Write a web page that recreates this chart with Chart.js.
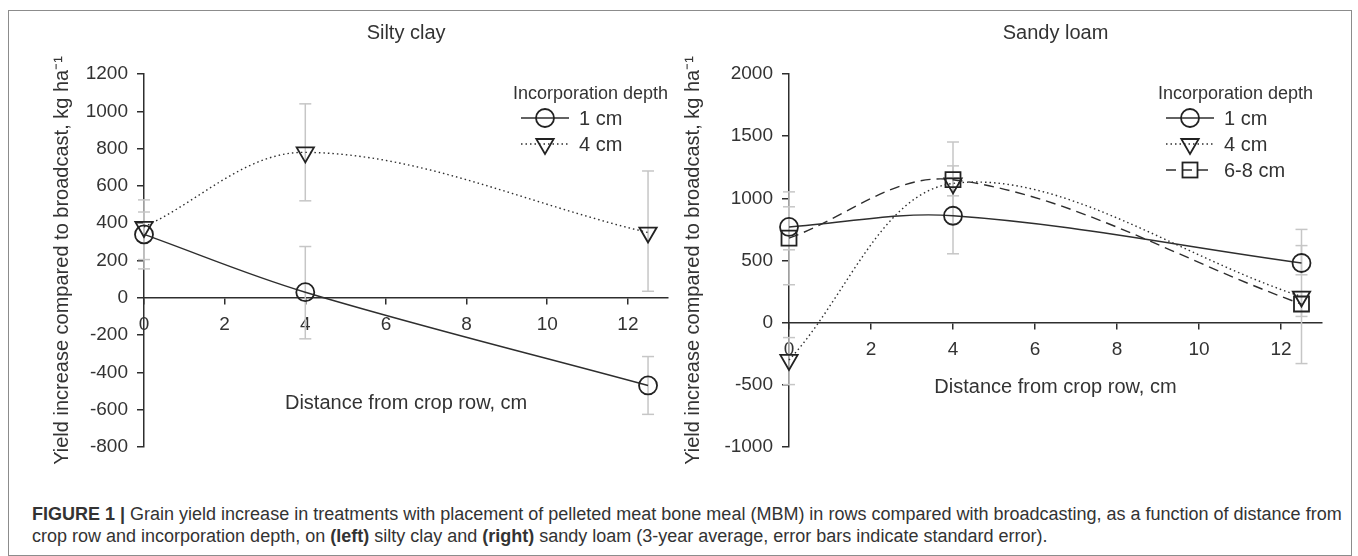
<!DOCTYPE html>
<html>
<head>
<meta charset="utf-8">
<script src="https://cdn.jsdelivr.net/npm/chart.js@4.4.1/dist/chart.umd.min.js"></script>
<style>
  html, body { margin: 0; padding: 0; background: #fff; }
  body {
    width: 1358px; height: 556px; position: relative; overflow: hidden;
    font-family: "Liberation Sans", Arial, sans-serif; color: #333;
  }
  .frame {
    position: absolute; left: 8px; top: 10px; width: 1342px; height: 544px;
    border: 1px solid #8c8c8c;
  }
  canvas { position: absolute; top: 0; }
  #silty { left: 0; }
  #sandy { left: 680px; }
  .legend { position: absolute; top: 81px; }
  .legend__title { font-size: 18px; line-height: 24px; white-space: nowrap; }
  .legend__row { display: flex; align-items: center; height: 26px; font-size: 20px; }
  .legend__row svg { flex: none; display: block; }
  .caption {
    position: absolute; left: 32px; top: 504px;
    font-size: 18px; line-height: 21.5px; white-space: nowrap; color: #333;
  }
</style>
</head>
<body>
<div class="frame"></div>
<canvas id="silty" width="680" height="480"></canvas>
<canvas id="sandy" width="678" height="480"></canvas>
<div class="legend" id="siltyLegend" style="left:513px"></div>
<div class="legend" id="sandyLegend" style="left:1158px"></div>
<div class="caption"><b>FIGURE 1 |</b> Grain yield increase in treatments with placement of pelleted meat bone meal (MBM) in rows compared with broadcasting, as a function of distance from<br>crop row and incorporation depth, on <b>(left)</b> silty clay and <b>(right)</b> sandy loam (3-year average, error bars indicate standard error).</div>

<script>
// distance from crop row, cm
const distance = [0, 4, 12.5];
const xTicks = [0, 2, 4, 6, 8, 10, 12];
const siltyYTicks = [-800, -600, -400, -200, 0, 200, 400, 600, 800, 1000, 1200];
const sandyYTicks = [-1000, -500, 0, 500, 1000, 1500, 2000];

// silty clay, kg/ha
const silty1cm = [340, 30, -470];
const silty1cmLow = [155, -220, -625];
const silty1cmHigh = [525, 275, -315];
const silty4cm = [380, 780, 350];
const silty4cmLow = [205, 520, 35];
const silty4cmHigh = [460, 1040, 680];

// sandy loam, kg/ha
const sandy1cm = [770, 860, 480];
const sandy1cmLow = [586, 554, 385];
const sandy1cmHigh = [932, 1166, 620];
const sandy4cm = [-300, 1120, 210];
const sandy4cmLow = [-498, 795, -329];
const sandy4cmHigh = [-120, 1453, 750];
const sandy68cm = [680, 1150, 150];
const sandy68cmLow = [305, 1020, 50];
const sandy68cmHigh = [1052, 1261, 250];

const INK = '#2e2e2e';
const ERR = '#c6c6c6';
const FONT = '"Liberation Sans", Arial, sans-serif';
Chart.defaults.font.family = FONT;
Chart.defaults.color = '#333';

const depthStyles = {
  '1 cm': { pointStyle: 'circle', radius: 9, rotation: 0, dash: [] },
  '4 cm': { pointStyle: 'triangle', radius: 10, rotation: 180, dash: [1.5, 3] },
  '6-8 cm': { pointStyle: 'rect', radius: 10.6, rotation: 0, dash: [10, 6] },
};

function seriesDataset(label, values) {
  const s = depthStyles[label];
  return {
    label,
    data: distance.map((x, i) => ({ x, y: values[i] })),
    borderColor: INK,
    borderWidth: 1.4,
    borderDash: s.dash,
    tension: 0.35,
    fill: false,
    clip: false,
    pointStyle: s.pointStyle,
    pointRotation: s.rotation,
    pointRadius: s.radius,
    pointBorderColor: '#222',
    pointBorderWidth: 1.8,
    pointBackgroundColor: 'rgba(0,0,0,0)',
  };
}

function errorDataset(low, high) {
  const data = [];
  distance.forEach((x, i) => {
    data.push({ x, y: low[i] }, { x, y: high[i] }, { x, y: null });
  });
  return {
    label: 'se',
    data,
    borderColor: ERR,
    borderWidth: 1.5,
    tension: 0,
    clip: false,
    pointStyle: 'line',
    pointRadius: 6,
    pointBorderColor: ERR,
    pointBorderWidth: 1.5,
  };
}

function createPanel($canvas, { title, series, errors, yTicks, yWidth, yTitlePadTop, xTitlePadTop, padding }) {
  const datasets = [
    ...series.map(([label, values]) => seriesDataset(label, values)),
    ...errors.map(([low, high]) => errorDataset(low, high)),
  ];
  return new Chart($canvas, {
    type: 'line',
    data: { datasets },
    options: {
      responsive: false,
      animation: false,
      events: [],
      layout: { padding },
      plugins: {
        legend: { display: false },
        tooltip: { enabled: false },
        title: {
          display: true,
          text: title,
          fullSize: false,
          color: '#333',
          font: { size: 20, weight: 'normal' },
          padding: { top: 21, bottom: 29 },
        },
      },
      scales: {
        x: {
          type: 'linear',
          position: { y: 0 },
          min: 0,
          max: 13,
          afterBuildTicks: (scale) => {
            scale.ticks = xTicks.map((value) => ({ value }));
          },
          ticks: {
            font: { size: 19 }, color: '#333', padding: 10, maxRotation: 0, autoSkip: false,
            callback: (value) => String(value),
          },
          grid: { drawOnChartArea: false, drawTicks: true, tickLength: 6, color: INK, lineWidth: 1.5 },
          border: { display: true, color: INK, width: 1.5 },
          title: {
            display: true,
            text: 'Distance from crop row, cm',
            color: '#333',
            font: { size: 20 },
            padding: { top: xTitlePadTop, bottom: 0 },
          },
        },
        y: {
          type: 'linear',
          position: 'left',
          min: yTicks[0],
          max: yTicks[yTicks.length - 1],
          afterBuildTicks: (scale) => {
            scale.ticks = yTicks.map((value) => ({ value }));
          },
          afterFit: (scale) => {
            scale.width = yWidth;
          },
          ticks: { font: { size: 19 }, color: '#333', padding: 9, callback: (value) => String(value) },
          grid: { drawOnChartArea: false, drawTicks: true, tickLength: 7, color: INK, lineWidth: 1.5 },
          border: { display: true, color: INK, width: 1.5 },
          title: {
            display: true,
            text: 'Yield increase compared to broadcast, kg ha\u207B\u00B9',
            color: '#333',
            font: { size: 20 },
            padding: { top: yTitlePadTop, bottom: 0 },
          },
        },
      },
    },
  });
}

createPanel(document.getElementById('silty'), {
  title: 'Silty clay',
  series: [['1 cm', silty1cm], ['4 cm', silty4cm]],
  errors: [[silty1cmLow, silty1cmHigh], [silty4cmLow, silty4cmHigh]],
  yTicks: siltyYTicks,
  yWidth: 106,
  yTitlePadTop: 12,
  xTitlePadTop: 45,
  padding: { left: 38, top: 0, right: 3, bottom: 33 },
});

createPanel(document.getElementById('sandy'), {
  title: 'Sandy loam',
  series: [['1 cm', sandy1cm], ['4 cm', sandy4cm], ['6-8 cm', sandy68cm]],
  errors: [[sandy1cmLow, sandy1cmHigh], [sandy4cmLow, sandy4cmHigh], [sandy68cmLow, sandy68cmHigh]],
  yTicks: sandyYTicks,
  yWidth: 109,
  yTitlePadTop: 1,
  xTitlePadTop: 4,
  padding: { left: 0, top: 0, right: 36, bottom: 33 },
});

// legend icons: line sample with the hollow marker on top
function legendIcon(label) {
  const s = depthStyles[label];
  const dash = s.dash.length ? `stroke-dasharray="${s.dash.join(' ')}"` : '';
  let marker = '';
  if (s.pointStyle === 'circle') {
    marker = `<circle cx="24" cy="13" r="9" fill="none" stroke="#222" stroke-width="1.8"/>`;
  } else if (s.pointStyle === 'triangle') {
    marker = `<polygon points="15.3,8 32.7,8 24,23" fill="none" stroke="#222" stroke-width="1.8"/>`;
  } else {
    marker = `<rect x="16.5" y="5.5" width="15" height="15" fill="none" stroke="#222" stroke-width="1.8"/>`;
  }
  return `<svg width="48" height="26" viewBox="0 0 48 26">
    <line x1="0" y1="13" x2="48" y2="13" stroke="${INK}" stroke-width="1.4" ${dash}/>${marker}</svg>`;
}

function buildLegend(el, labels) {
  let html = '<div class="legend__title">Incorporation depth</div>';
  for (const label of labels) {
    html += `<div class="legend__row"><span style="margin-left:8px">${legendIcon(label)}</span>` +
      `<span style="margin-left:10px">${label}</span></div>`;
  }
  el.innerHTML = html;
}
buildLegend(document.getElementById('siltyLegend'), ['1 cm', '4 cm']);
buildLegend(document.getElementById('sandyLegend'), ['1 cm', '4 cm', '6-8 cm']);
</script>
</body>
</html>
